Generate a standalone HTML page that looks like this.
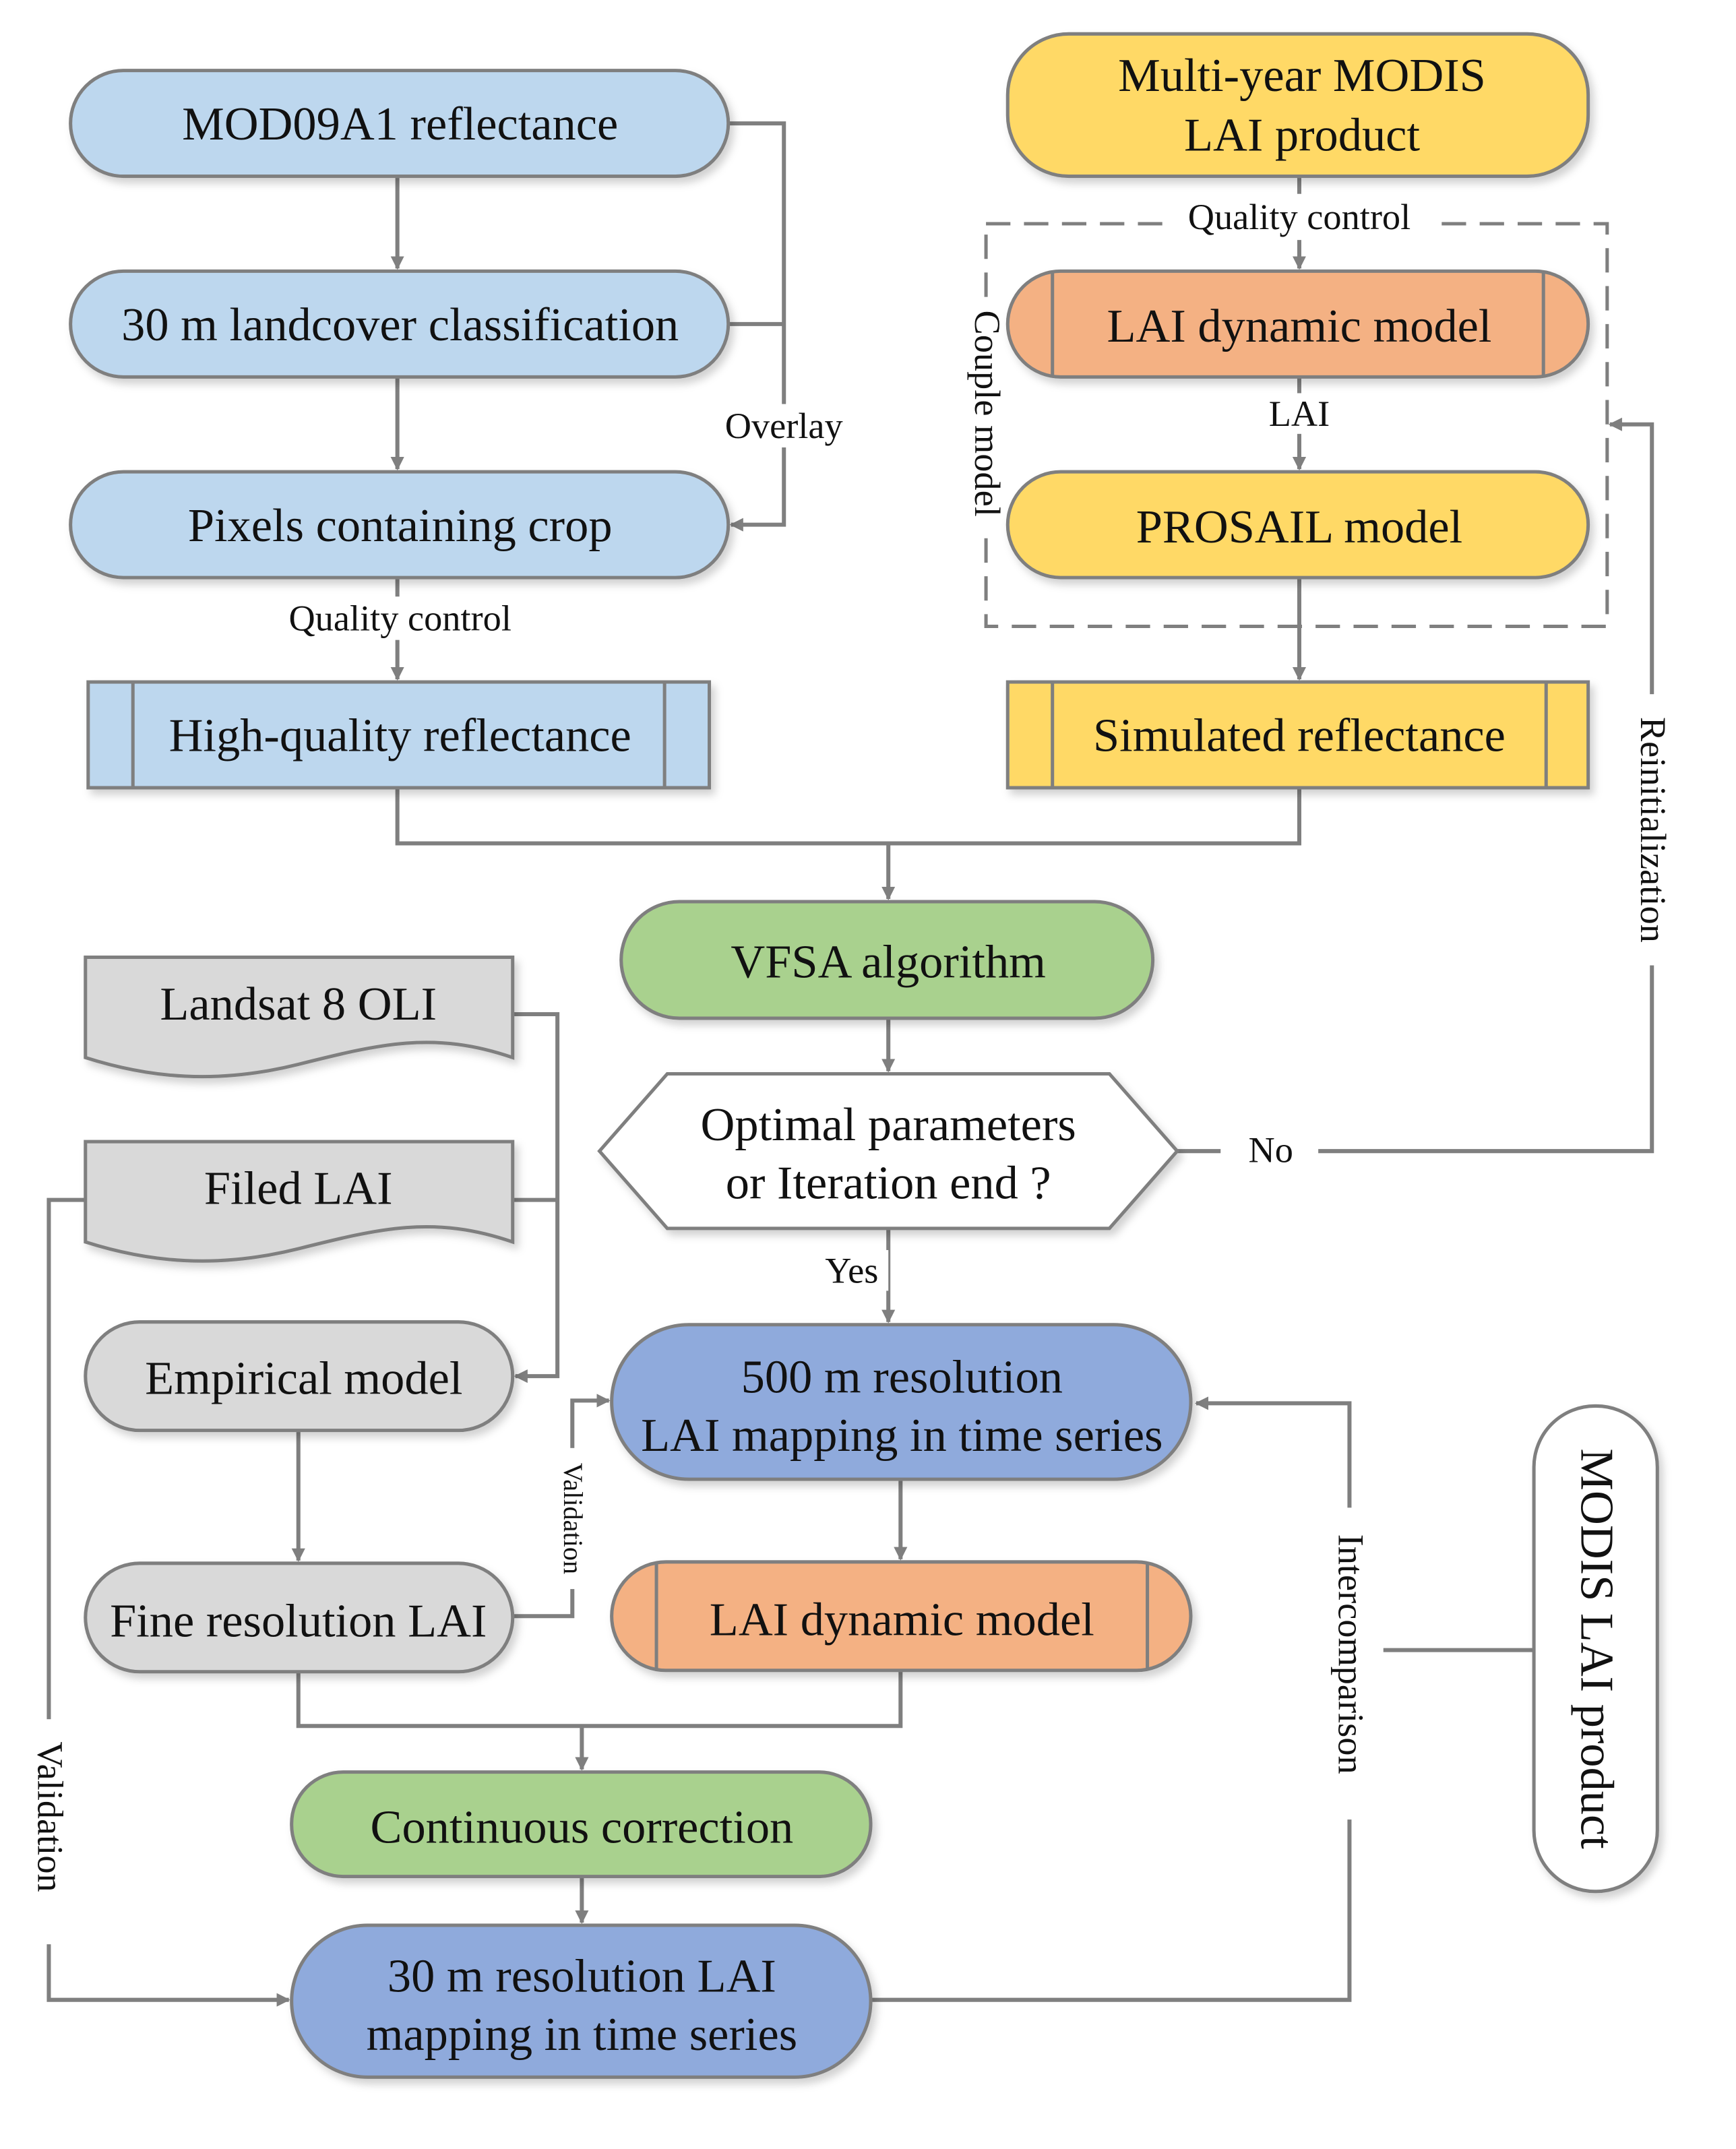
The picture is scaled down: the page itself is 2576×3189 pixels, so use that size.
<!DOCTYPE html>
<html><head><meta charset="utf-8"><style>
html,body{margin:0;padding:0;background:#fff;}
svg{display:block;}
text{font-family:"Liberation Serif",serif;fill:#111;}
</style></head><body>
<svg width="2576" height="3189" viewBox="0 0 1280 1585" preserveAspectRatio="none" xmlns="http://www.w3.org/2000/svg">
<defs>
<marker id="a" markerWidth="10" markerHeight="10" refX="9" refY="5" orient="auto" markerUnits="userSpaceOnUse"><path d="M0,0 L10,5 L0,10 z" fill="#7f7f7f"/></marker>
<filter id="sh" x="-5%" y="-10%" width="115%" height="130%"><feDropShadow dx="3" dy="4" stdDeviation="3" flood-color="#000" flood-opacity="0.18"/></filter>
</defs>
<g stroke="#7f7f7f" stroke-width="3" fill="none">
<path d="M293,130 V198" marker-end="url(#a)"/>
<path d="M293,278 V346" marker-end="url(#a)"/>
<path d="M293,426 V501" marker-end="url(#a)"/>
<path d="M537,91 H578 V387 H539" marker-end="url(#a)"/>
<path d="M537,239 H578"/>
<path d="M958,130 V198" marker-end="url(#a)"/>
<path d="M958,278 V346" marker-end="url(#a)"/>
<path d="M958,426 V501" marker-end="url(#a)"/>
<path d="M293,581 V622 H958 V581"/>
<path d="M655,622 V663" marker-end="url(#a)"/>
<path d="M655,751 V790" marker-end="url(#a)"/>
<path d="M868,849 H1218 V313 H1187" marker-end="url(#a)"/>
<path d="M655,906 V975" marker-end="url(#a)"/>
<path d="M664,1091 V1150" marker-end="url(#a)"/>
<path d="M378,748 H411 V1015 H380" marker-end="url(#a)"/>
<path d="M378,885 H411"/>
<path d="M220,1055 V1151" marker-end="url(#a)"/>
<path d="M378,1192 H422 V1033 H449" marker-end="url(#a)"/>
<path d="M220,1233 V1273 H664 V1232"/>
<path d="M429,1273 V1305" marker-end="url(#a)"/>
<path d="M429,1384 V1418" marker-end="url(#a)"/>
<path d="M63,885 H36 V1475 H213" marker-end="url(#a)"/>
<path d="M642,1475 H995 V1035 H882" marker-end="url(#a)"/>
<path d="M1020,1217 H1131"/>
<rect x="727" y="165" width="458" height="297" stroke-dasharray="18,10" stroke-width="2.5"/>
</g>
<g fill="#fff">
<rect x="526" y="298" width="104" height="32"/>
<rect x="198" y="440" width="194" height="32"/>
<rect x="858" y="143" width="200" height="34"/>
<rect x="930" y="290" width="56" height="30"/>
<rect x="710" y="222" width="36" height="170"/>
<rect x="1202" y="512" width="34" height="200"/>
<rect x="900" y="832" width="72" height="34"/>
<rect x="600" y="922" width="55" height="30"/>
<rect x="408" y="1068" width="30" height="104"/>
<rect x="20" y="1268" width="34" height="166"/>
<rect x="979" y="1112" width="34" height="230"/>
</g>
<g stroke="#7f7f7f" stroke-width="2.5" filter="url(#sh)">
<rect x="52" y="52" width="485" height="78" rx="39" fill="#BDD7EE"/>
<rect x="52" y="200" width="485" height="78" rx="39" fill="#BDD7EE"/>
<rect x="52" y="348" width="485" height="78" rx="39" fill="#BDD7EE"/>
<rect x="65" y="503" width="458" height="78" fill="#BDD7EE"/>
<rect x="743" y="25" width="428" height="105" rx="45" fill="#FFD966"/>
<rect x="743" y="200" width="428" height="78" rx="39" fill="#F4B183"/>
<rect x="743" y="348" width="428" height="78" rx="39" fill="#FFD966"/>
<rect x="743" y="503" width="428" height="78" fill="#FFD966"/>
<rect x="458" y="665" width="392" height="86" rx="43" fill="#A9D18E"/>
<polygon points="442,849 492,792 818,792 868,849 818,906 492,906" fill="#fff"/>
<rect x="451" y="977" width="427" height="114" rx="57" fill="#8FAADC"/>
<rect x="451" y="1152" width="427" height="80" rx="40" fill="#F4B183"/>
<path d="M63,706 H378 V780 C320,760 280,770 220,785 C160,800 110,795 63,780 Z" fill="#D9D9D9"/>
<path d="M63,842 H378 V916 C320,896 280,906 220,921 C160,936 110,931 63,916 Z" fill="#D9D9D9"/>
<rect x="63" y="975" width="315" height="80" rx="40" fill="#D9D9D9"/>
<rect x="63" y="1153" width="315" height="80" rx="40" fill="#D9D9D9"/>
<rect x="215" y="1307" width="427" height="77" rx="38" fill="#A9D18E"/>
<rect x="215" y="1420" width="427" height="112" rx="56" fill="#8FAADC"/>
<rect x="1131" y="1037" width="91" height="358" rx="45" fill="#fff"/>
</g>
<g stroke="#7f7f7f" stroke-width="2.5">
<path d="M98,503 V581 M490,503 V581"/>
<path d="M776,503 V581 M1140,503 V581"/>
<path d="M776,201 V277 M1138,201 V277"/>
<path d="M484,1153 V1231 M846,1153 V1231"/>
</g>
<g font-size="35" text-anchor="middle">
<text x="295" y="103">MOD09A1 reflectance</text>
<text x="295" y="251">30 m landcover classification</text>
<text x="295" y="399">Pixels containing crop</text>
<text x="295" y="554">High-quality reflectance</text>
<text x="960" y="67">Multi-year MODIS</text>
<text x="960" y="111">LAI product</text>
<text x="958" y="252">LAI dynamic model</text>
<text x="958" y="400">PROSAIL model</text>
<text x="958" y="554">Simulated reflectance</text>
<text x="655" y="721">VFSA  algorithm</text>
<text x="655" y="841">Optimal parameters</text>
<text x="655" y="884">or Iteration end ?</text>
<text x="665" y="1027">500 m resolution</text>
<text x="665" y="1070">LAI mapping in time series</text>
<text x="665" y="1206">LAI dynamic model</text>
<text x="220" y="752">Landsat 8 OLI</text>
<text x="220" y="888">Filed LAI</text>
<text x="224" y="1028">Empirical model</text>
<text x="220" y="1207">Fine resolution LAI</text>
<text x="429" y="1359">Continuous correction</text>
<text x="429" y="1469">30 m resolution LAI</text>
<text x="429" y="1512">mapping in time series</text>
<text transform="translate(1166,1216) rotate(90)">MODIS LAI product</text>
</g>
<g font-size="27" text-anchor="middle">
<text x="578" y="323">Overlay</text>
<text x="295" y="465">Quality control</text>
<text x="958" y="169">Quality control</text>
<text x="958" y="314">LAI</text>
<text x="937" y="857">No</text>
<text x="628" y="946">Yes</text>
<text transform="translate(719,305) rotate(90)">Couple model</text>
<text transform="translate(1210,612) rotate(90)">Reinitialization</text>
<text transform="translate(28,1340) rotate(90)">Validation</text>
<text transform="translate(987,1220) rotate(90)">Intercomparison</text>
<text font-size="20" transform="translate(416,1120) rotate(90)">Validation</text>
</g>
</svg>
</body></html>
